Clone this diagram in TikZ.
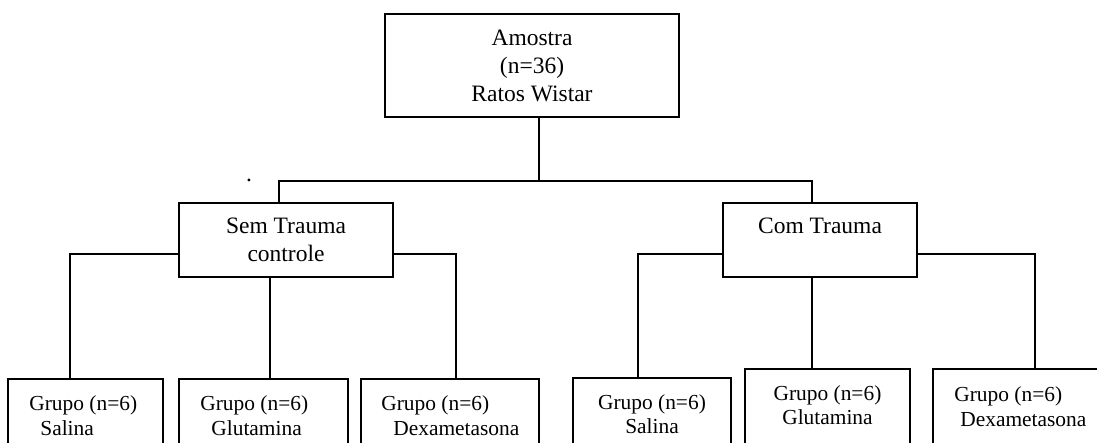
\documentclass[tikz,border=0pt]{standalone}
\usepackage{fontspec}
\setmainfont{Liberation Serif}
\begin{document}
\begin{tikzpicture}[x=0.5pt,y=-0.5pt,
  ln/.style={line width=1pt},
  bx/.style={draw, line width=1pt, outer sep=0pt, inner sep=0pt},
  big/.style={font=\fontsize{11.75}{14}\selectfont, align=center},
  small/.style={font=\fontsize{10.7}{12.2}\selectfont, inner sep=0pt}]
\useasboundingbox (0,0) rectangle (1097,443);
\clip (0,0) rectangle (1097,443);
\fill[white] (0,0) rectangle (1097,443);
% main boxes
\node[bx,big,minimum width=147pt,minimum height=51.5pt] (top) at (532,65.5) {Amostra\\(n=36)\\Ratos Wistar};
\node[bx,big,minimum width=107pt,minimum height=37pt] (sem) at (286,240) {Sem Trauma\\controle};
\node[bx,big,minimum width=97pt,minimum height=37pt] (com) at (820,240) {Com Trauma\\\mbox{}};
% bottom boxes
\node[bx,anchor=north west,minimum width=77.5pt,minimum height=50pt] (b1) at (8,379) {};
\node[bx,anchor=north west,minimum width=84.5pt,minimum height=50pt] (b2) at (179,379) {};
\node[bx,anchor=north west,minimum width=89pt,minimum height=50pt] (b3) at (361,379) {};
\node[bx,anchor=north west,minimum width=79pt,minimum height=50pt] (b4) at (573,378) {};
\node[bx,anchor=north west,minimum width=82.5pt,minimum height=50pt] (b5) at (745,369) {};
\node[bx,anchor=north west,minimum width=90pt,minimum height=50pt] (b6) at (933,369) {};
% texts of bottom boxes
\node[small,align=left,anchor=west] (t1) at (29,415.5) {Grupo (n=6)\\\hspace*{5.5pt}Salina};
\node[small,align=left,anchor=west] (t2) at (200,415.5) {Grupo (n=6)\\\hspace*{5.5pt}Glutamina};
\node[small,align=left,anchor=west] (t3) at (381,415.5) {Grupo (n=6)\\\hspace*{6pt}Dexametasona};
\node[small,align=center] (t4) at (652,414) {Grupo (n=6)\\Salina};
\node[small,align=center] (t5) at (827.5,405) {Grupo (n=6)\\Glutamina};
\node[small,align=left,anchor=west] (t6) at (954,406.5) {Grupo (n=6)\\\hspace*{3pt}Dexametasona};
% stray dot
\node[big,inner sep=0pt] (dot) at (249,180) {.};
% connectors
\coordinate (hl) at (279,181);
\draw[ln] ([xshift=3.5pt]top.south) -- ([xshift=3.5pt]top.south |- hl);
\draw[ln] ([xshift=-3.5pt]sem.north) |- ([xshift=-4pt]com.north |- hl) -- ([xshift=-4pt]com.north);
\draw[ln] ([yshift=-7pt]sem.west) -| ([xshift=-7.75pt]b1.north);
\draw[ln] ([xshift=-8pt]sem.south) -- ([xshift=3.25pt]b2.north);
\draw[ln] ([yshift=-7pt]sem.east) -| ([xshift=3pt]b3.north);
\draw[ln] ([yshift=-7pt]com.west) -| ([xshift=-7pt]b4.north);
\draw[ln] ([xshift=-4pt]com.south) -- ([xshift=-7.75pt]b5.north);
\draw[ln] ([yshift=-7pt]com.east) -| ([xshift=6pt]b6.north);
\end{tikzpicture}
\end{document}
